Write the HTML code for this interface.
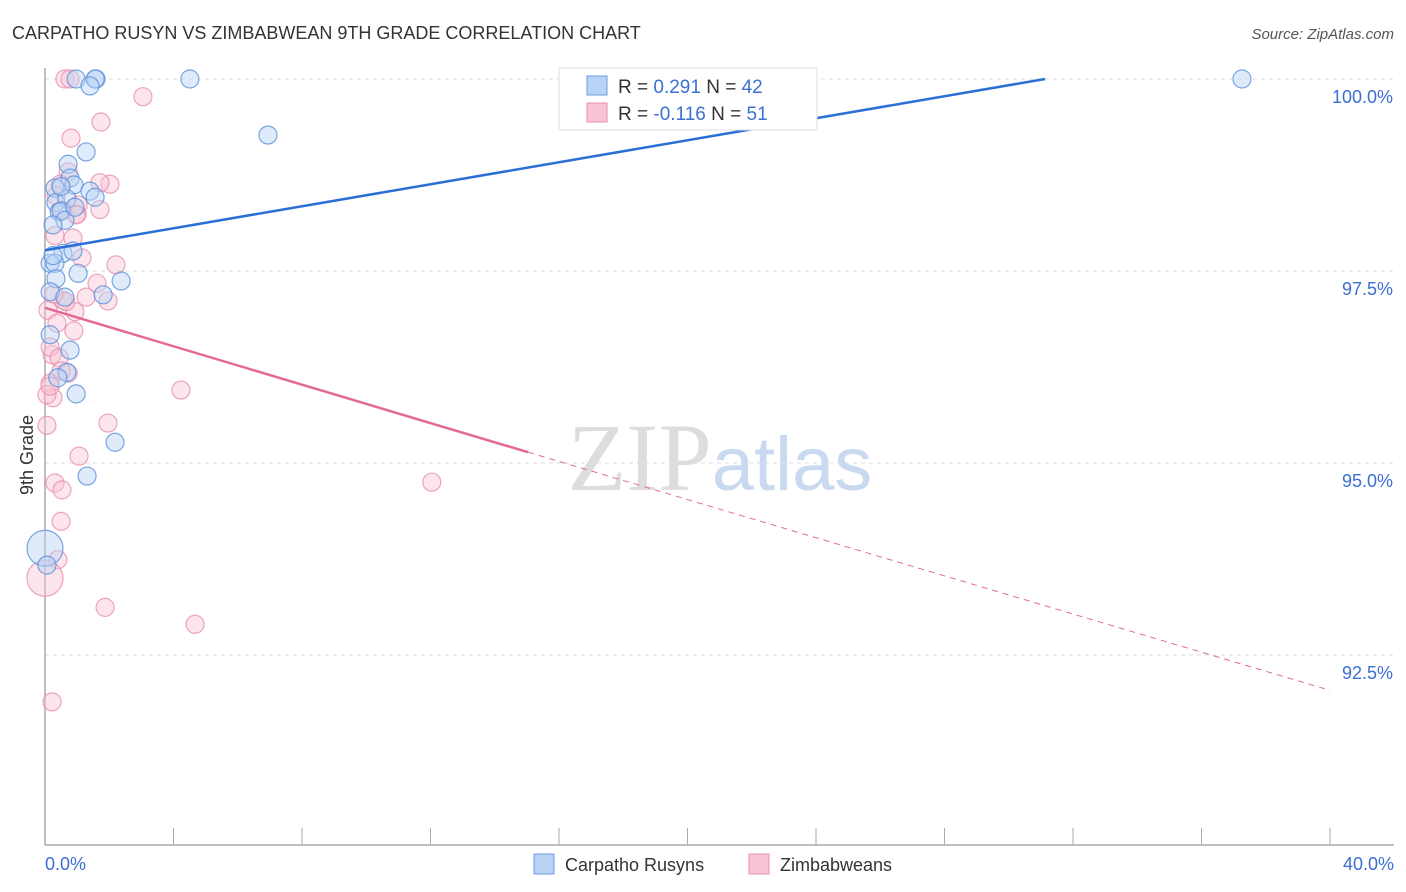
<!DOCTYPE html>
<html><head><meta charset="utf-8"><style>
body{margin:0;background:#fff;font-family:"Liberation Sans",sans-serif}
</style></head><body>
<svg id="chart" width="1406" height="892" xmlns="http://www.w3.org/2000/svg" style="display:block">
<text x="12" y="39" font-size="18" fill="#333">CARPATHO RUSYN VS ZIMBABWEAN 9TH GRADE CORRELATION CHART</text>
<text x="1394" y="39" font-size="15" fill="#555" text-anchor="end" font-style="italic">Source: ZipAtlas.com</text>
<text x="720" y="490" font-size="96" text-anchor="middle" fill="#ddd" font-family="Liberation Serif">ZIP<tspan fill="#c9daf0" font-family="Liberation Sans" font-size="76">atlas</tspan></text>
<g id="grid"></g><g id="axes"></g><g id="pts"></g><g id="trend"></g>
<text transform="translate(33,455) rotate(-90)" font-size="18" fill="#333" text-anchor="middle">9th Grade</text>
<g>
<rect x="559" y="68" width="258" height="62" fill="#fff" stroke="#ddd"/>
<rect x="587" y="76" width="20" height="19" fill="#b8d3f5" stroke="#6a9ee0"/>
<rect x="587" y="103" width="20" height="19" fill="#f9c5d4" stroke="#e98fab"/>
<text x="618" y="93" font-size="19" fill="#333">R = <tspan fill="#3b6fd4"> 0.291</tspan>   N = <tspan fill="#3b6fd4">42</tspan></text>
<text x="618" y="120" font-size="19" fill="#333">R = <tspan fill="#3b6fd4">-0.116</tspan>   N = <tspan fill="#3b6fd4"> 51</tspan></text>
</g>
<g>
<rect x="534" y="854" width="20" height="20" fill="#b8d3f5" stroke="#6a9ee0"/>
<text x="565" y="871" font-size="18" fill="#333">Carpatho Rusyns</text>
<rect x="749" y="854" width="20" height="20" fill="#f9c5d4" stroke="#e98fab"/>
<text x="780" y="871" font-size="18" fill="#333">Zimbabweans</text>
</g>
</svg>
<script>
const yTicks=[100,97.5,95,92.5];
const yTickLabels=["100.0%","97.5%","95.0%","92.5%"];
const xTickLabels=["0.0%","40.0%"];
const blueX=[0.97,1.59,1.56,1.40,4.51,37.26,6.94,1.28,0.72,0.78,0.31,0.90,1.40,1.56,0.34,0.68,0.44,0.50,0.62,0.25,0.93,0.56,0.87,0.16,0.31,1.03,2.37,0.34,0.16,0.62,1.81,0.78,0.68,0.40,0.97,2.18,1.31,0,0.16,0.06,0.50,0.25];
const blueY=[100,100,100,99.91,100,100,99.27,99.05,98.89,98.71,98.58,98.62,98.54,98.46,98.39,98.44,98.27,98.28,98.16,98.10,98.33,97.73,97.76,97.60,97.60,97.47,97.37,97.40,97.23,97.16,97.19,96.47,96.18,96.11,95.90,95.27,94.83,93.89,96.67,93.67,98.60,97.70];
const blueR=[9,9,9,9,9,9,9,9,9,9,9,9,9,9,9,9,9,9,9,9,9,9,9,9,9,9,9,9,9,9,9,9,9,9,9,9,9,18,9,9,9,9];
const pinkX=[0.62,0.78,3.05,1.74,0.81,0.72,2.02,1.71,0.47,1.03,1.00,0.97,0.31,0.87,1.15,2.21,1.62,1.96,1.28,0.56,0.09,0.93,0.37,0.90,0.22,0.16,0.72,0.16,0.25,4.23,0.06,1.96,1.06,0.31,0.53,0.50,0.40,0,1.87,4.67,12.04,0.22,0.44,0.65,0.06,0.34,0.53,1.71,0.50,0.16,0.28];
const pinkY=[100,100,99.77,99.44,99.23,98.79,98.63,98.65,98.63,98.36,98.24,98.23,97.96,97.93,97.67,97.58,97.34,97.11,97.16,97.12,96.99,96.97,96.82,96.72,96.41,96.51,96.17,96.04,95.85,95.95,95.49,95.52,95.09,94.74,94.65,94.24,93.74,93.50,93.12,92.90,94.75,91.89,96.37,97.10,95.89,98.48,98.29,98.30,96.20,96.00,97.20];
const pinkR=[9,9,9,9,9,9,9,9,9,9,9,9,9,9,9,9,9,9,9,9,9,9,9,9,9,9,9,9,9,9,9,9,9,9,9,9,9,18,9,9,9,9,9,9,9,9,9,9,9,9,9];
const blueTrend=[[0,97.77],[31.13,100]];
const pinkTrend=[[0,97.02],[15.04,95.14],[40,92.04]];
const NS="http://www.w3.org/2000/svg";
const X=v=>45+v/40*1285, Y=v=>79+(100-v)*76.8;
function mk(t,a,p){const e=document.createElementNS(NS,t);for(const k in a)e.setAttribute(k,a[k]);p.appendChild(e);return e;}
const grid=document.getElementById('grid'),axes=document.getElementById('axes');
yTicks.forEach((t,i)=>{
 const l=mk('line',{x1:45,x2:1394,y1:Y(t),y2:Y(t),stroke:'#ddd','stroke-dasharray':'4,4'},grid);
 
 
 const tx=mk('text',{x:1393,y:Y(t)+24,'font-size':18,fill:'#3b6fd4','text-anchor':'end'},axes);
 tx.textContent=yTickLabels[i];
 
 
});
const ax=mk('line',{x1:45,x2:45,y1:68,y2:845,stroke:'#aaa','stroke-width':1.5},axes);


const bx=mk('line',{x1:45,x2:1394,y1:845,y2:845,stroke:'#aaa','stroke-width':1.5},axes);


for(let i=0;i<=10;i++){const v=i*4;const t=mk('line',{x1:X(v),x2:X(v),y1:828,y2:845,stroke:'#aaa'},axes);
 
 }
[[0,'start',45],[40,'end',1394]].forEach((o,i)=>{const t=mk('text',{x:o[2],y:870,'font-size':18,fill:'#3b6fd4','text-anchor':o[1]},axes);t.textContent=xTickLabels[i];
 
 });
const pts=document.getElementById('pts');
function series(xs,ys,rs,fill,stroke,name){xs.forEach((x,i)=>{const c=mk('circle',{cx:X(x),cy:Y(ys[i]),r:rs[i],fill:fill,'fill-opacity':0.45,stroke:stroke,'stroke-opacity':0.8,'stroke-width':1.2},pts);
 
 });}
series(pinkX,pinkY,pinkR,'#f9c5d4','#e98fab','zimbabwean-point');
series(blueX,blueY,blueR,'#b8d3f5','#5a8fdc','carpatho-rusyn-point');
const tr=document.getElementById('trend');
const b=mk('line',{x1:X(blueTrend[0][0]),y1:Y(blueTrend[0][1]),x2:X(blueTrend[1][0]),y2:Y(blueTrend[1][1]),stroke:'#2a6fd6','stroke-width':2.5},tr);


const p1=mk('line',{x1:X(pinkTrend[0][0]),y1:Y(pinkTrend[0][1]),x2:X(pinkTrend[1][0]),y2:Y(pinkTrend[1][1]),stroke:'#e46a93','stroke-width':2.5},tr);


const p2=mk('line',{x1:X(pinkTrend[1][0]),y1:Y(pinkTrend[1][1]),x2:X(pinkTrend[2][0]),y2:Y(pinkTrend[2][1]),stroke:'#e46a93','stroke-width':1,'stroke-dasharray':'6,5'},tr);


</script>
</body></html>
